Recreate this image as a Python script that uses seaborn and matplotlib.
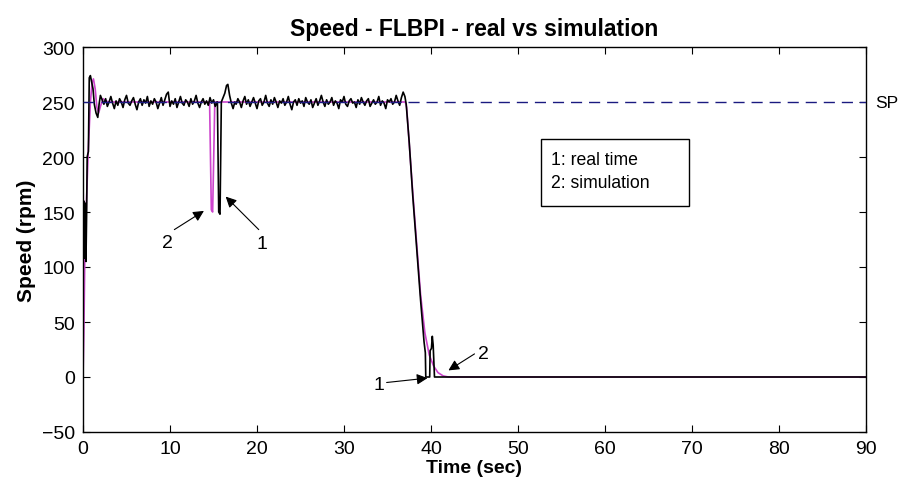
import numpy as np
import matplotlib
matplotlib.use("Agg")
import matplotlib.pyplot as plt
import seaborn as sns
from matplotlib.patches import Rectangle

# ---------------- data ----------------
# real-time response: start transient
real_t_start = [0.05, 0.1, 0.18, 0.26, 0.34, 0.42, 0.48, 0.62, 0.72, 0.85, 1.0, 1.15, 1.3, 1.5, 1.7, 1.85, 2.0]
real_v_start = [110, 160, 108, 158, 105, 150, 200, 205, 272, 274, 268, 262, 248, 240, 236, 248, 256]

# real-time steady state samples, t = 2.2 ... 15.4 (every 0.2 s)
real_v_ss1 = [252, 248, 253, 246, 250, 255, 249, 244, 251, 247, 253, 250, 245, 252, 256, 249, 247, 251, 254, 248,
              243, 250, 253, 247, 252, 249, 255, 246, 251, 248, 253, 250, 244, 249, 254, 247, 252, 257, 259, 246,
              251, 248, 253, 245, 250, 255, 249, 247, 252, 250, 246, 253, 248, 251, 256, 249, 245, 250, 253, 248,
              251, 247, 254, 249, 252, 246, 250]

# real-time disturbance dip
real_t_dip = [15.45, 15.6, 15.75, 15.9, 16.1, 16.3, 16.5, 16.65, 16.85, 17.05, 17.25, 17.45]
real_v_dip = [250, 150, 148, 250, 254, 258, 265, 266, 256, 249, 244, 250]

# real-time steady state samples, t = 17.6 ... 36.8 (every 0.2 s)
real_v_ss2 = [248, 253, 250, 245, 251, 255, 248, 252, 246, 250, 254, 249, 244, 251, 253, 247, 250, 256, 249, 246,
              252, 248, 254, 250, 245, 251, 249, 253, 247, 250, 255, 248, 243, 250, 252, 247, 253, 249, 251, 246,
              254, 250, 248, 252, 245, 249, 253, 247, 251, 256, 250, 246, 252, 248, 250, 254, 247, 251, 249, 244,
              252, 250, 255, 248, 246, 251, 253, 249, 250, 245, 252, 248, 254, 250, 247, 251, 253, 246, 249, 252,
              248, 250, 255, 247, 251, 249, 244, 252, 250, 253, 248, 250, 256, 251, 247, 254, 259]

# real-time ramp down
real_t_end = [37.0, 37.15, 37.5, 37.9, 38.4, 38.8, 39.2, 39.35, 39.4, 39.85, 39.9, 40.05, 40.15, 40.25, 40.4, 90.0]
real_v_end = [255, 248, 213, 165, 112, 70, 32, 22, 0, 0, 24, 26, 37, 29, 0, 0]

# simulation response
sim_t = [0, 0.1, 0.2, 0.4, 0.6, 0.85, 1.05, 1.2, 1.4, 1.6, 1.8, 2.0, 2.3, 2.6, 3.0,
         14.55, 14.75, 14.9, 15.15, 37.05, 37.2, 37.9, 38.8, 39.3, 39.8, 40.3, 40.8, 41.4, 42.0, 90.0]
sim_v = [0, 40, 105, 160, 205, 250, 268, 271, 262, 245, 240, 246, 253, 251, 250,
         250, 152, 150, 250, 250, 245, 168, 75, 40, 20, 10, 4, 1, 0, 0]

# set point
sp_t = [0, 90]
sp_v = [250, 250]

x_ticks = [0, 10, 20, 30, 40, 50, 60, 70, 80, 90]
y_ticks = [-50, 0, 50, 100, 150, 200, 250, 300]

# assemble real series (sample times of the steady parts)
t_ss1 = np.round(np.arange(len(real_v_ss1)) * 0.2 + 2.2, 3)
t_ss2 = np.round(np.arange(len(real_v_ss2)) * 0.2 + 17.6, 3)
real_t = np.concatenate([real_t_start, t_ss1, real_t_dip, t_ss2, real_t_end])
real_v = np.concatenate([real_v_start, real_v_ss1, real_v_dip, real_v_ss2, real_v_end])

# ---------------- plot ----------------
sns.set_style("ticks")
plt.rcParams['font.family'] = ['Liberation Sans', 'DejaVu Sans']
plt.rcParams['text.color'] = 'black'
plt.rcParams['axes.labelcolor'] = 'black'
plt.rcParams['xtick.color'] = 'black'
plt.rcParams['ytick.color'] = 'black'

fig = plt.figure(figsize=(9, 4.85), dpi=100)
ax = fig.add_axes([83 / 900, (485 - 433) / 485, (866 - 83) / 900, (433 - 48) / 485])

sns.lineplot(x=sim_t, y=sim_v, ax=ax, color="#cc44cc", lw=1.2, sort=False, estimator=None, zorder=2)
sns.lineplot(x=real_t, y=real_v, ax=ax, color="black", lw=1.2, sort=False, estimator=None, zorder=3)
sns.lineplot(x=sp_t, y=sp_v, ax=ax, color="#1a1a80", lw=1.0, sort=False, estimator=None, zorder=4,
             linestyle=(0, (8, 5)))

ax.set_xlim(0, 90)
ax.set_ylim(-50, 300)
ax.set_xticks(x_ticks)
ax.set_yticks(y_ticks)
ax.tick_params(direction="in", top=True, right=True, length=5, width=0.8, labelsize=14, pad=6)
for s in ax.spines.values():
    s.set_visible(True)
    s.set_linewidth(1.0)
    s.set_color("black")

ax.set_title("Speed - FLBPI - real vs simulation", fontsize=16.5, fontweight="bold", pad=9)
ax.set_xlabel("Time (sec)", fontsize=14, fontweight="bold", labelpad=1)
ax.set_ylabel("Speed (rpm)", fontsize=15, fontweight="bold", labelpad=4)

# SP label
ax.text(91.1, 250, "SP", fontsize=12.5, va="center", ha="left", clip_on=False)

# annotations
arr = dict(arrowstyle="-|>", color="black", lw=0.8, mutation_scale=16, shrinkA=0, shrinkB=0)
ax.annotate("", xy=(13.9, 151), xytext=(10.5, 134), arrowprops=arr)
ax.text(9.7, 122, "2", fontsize=14, ha="center", va="center")
ax.annotate("", xy=(16.4, 164), xytext=(20.2, 134), arrowprops=arr)
ax.text(20.6, 121, "1", fontsize=14, ha="center", va="center")
ax.annotate("", xy=(39.6, -1), xytext=(34.9, -5), arrowprops=arr)
ax.text(34.0, -7, "1", fontsize=14, ha="center", va="center")
ax.annotate("", xy=(42.0, 6), xytext=(45.0, 21), arrowprops=arr)
ax.text(46.0, 21, "2", fontsize=14, ha="center", va="center")

# legend box
ax.add_patch(Rectangle((52.7, 155.7), 17.0, 60.7, fill=False, edgecolor="black", lw=1.0, zorder=5))
ax.text(53.8, 198, "1: real time", fontsize=12.7, va="center", ha="left")
ax.text(53.8, 177, "2: simulation", fontsize=12.7, va="center", ha="left")

fig.savefig("out.png", dpi=100)
